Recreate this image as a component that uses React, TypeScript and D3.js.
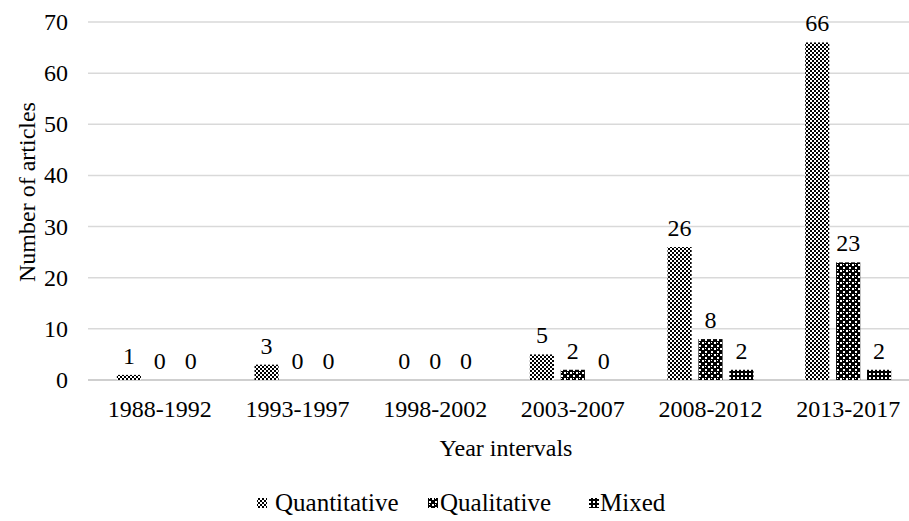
import React from "react";
import * as d3 from "d3";

const categories = ["1988-1992", "1993-1997", "1998-2002", "2003-2007", "2008-2012", "2013-2017"];
const seriesNames = ["Quantitative", "Qualitative", "Mixed"];
const quantitative = [1, 3, 0, 5, 26, 66];
const qualitative = [0, 0, 0, 2, 8, 23];
const mixed = [0, 0, 0, 0, 2, 2];
const yTicks = [0, 10, 20, 30, 40, 50, 60, 70];

const W = 909;
const H = 521;
const FONT = "'Liberation Serif', 'Times New Roman', serif";
const FS = 24;

export default function App() {
  const series = [quantitative, qualitative, mixed];
  const y = d3.scaleLinear().domain([0, 70]).range([380, 22]);
  const x = d3.scaleBand<string>().domain(categories).range([91, 917]).paddingInner(0).paddingOuter(0);
  const groupW = 86;
  const inner = d3.scaleBand<number>().domain([0, 1, 2]).range([0, groupW]).paddingInner(0.22).paddingOuter(0);
  const patIds = ["pQuant", "pQual", "pMixed"];

  const legendItems = [
    { sx: 257, tx: 275 },
    { sx: 428, tx: 440 },
    { sx: 589, tx: 600 },
  ];

  return (
    <svg width={W} height={H} style={{ position: "absolute", left: 0, top: 0, background: "#fff" }}>
      <defs>
        <pattern id="pQuant" width="4" height="4" patternUnits="userSpaceOnUse">
          <rect width="4" height="4" fill="#fff" />
          <rect x="0" y="0" width="2" height="2" fill="#000" />
          <rect x="2" y="2" width="2" height="2" fill="#000" />
        </pattern>
        <pattern id="pQual" width="6" height="6" patternUnits="userSpaceOnUse">
          <rect width="6" height="6" fill="#000" />
          <rect x="0" y="0" width="2" height="2" fill="#fff" />
          <rect x="3" y="3" width="2" height="2" fill="#fff" />
          <rect x="3" y="0" width="1" height="1" fill="#fff" />
        </pattern>
        <pattern id="pMixed" width="4" height="4" patternUnits="userSpaceOnUse">
          <rect width="4" height="4" fill="#000" />
          <rect x="1" y="1" width="2" height="2" fill="#fff" />
        </pattern>
      </defs>
      <rect width={W} height={H} fill="#fff" />
      {yTicks.map((t) => (
        <g key={t}>
          <line x1={88} x2={W} y1={y(t)} y2={y(t)} stroke={t === 0 ? "#bfbfbf" : "#d9d9d9"} strokeWidth={1.5} />
          <text x={68} y={y(t) + 8} textAnchor="end" fontFamily={FONT} fontSize={FS} fill="#000">
            {t}
          </text>
        </g>
      ))}
      {categories.map((c, i) => {
        const gx = (x(c) as number) + (x.bandwidth() - groupW) / 2;
        return (
          <g key={c}>
            {series.map((s, j) => {
              const bx = gx + (inner(j) as number);
              const bw = inner.bandwidth();
              const v = s[i];
              return (
                <g key={j}>
                  {v > 0 && (
                    <rect x={bx} y={y(v)} width={bw} height={y(0) - y(v)} fill={`url(#${patIds[j]})`} />
                  )}
                  <text x={bx + bw / 2} y={y(v) - 11} textAnchor="middle" fontFamily={FONT} fontSize={FS} fill="#000">
                    {v}
                  </text>
                </g>
              );
            })}
            <text x={(x(c) as number) + x.bandwidth() / 2} y={417} textAnchor="middle" fontFamily={FONT} fontSize={FS} fill="#000">
              {c}
            </text>
          </g>
        );
      })}
      <text x={506} y={456} textAnchor="middle" fontFamily={FONT} fontSize={FS} fill="#000">
        Year intervals
      </text>
      <text
        transform={`translate(35,192) rotate(-90)`}
        textAnchor="middle"
        fontFamily={FONT}
        fontSize={FS}
        fill="#000"
      >
        Number of articles
      </text>
      {seriesNames.map((n, j) => (
        <g key={n}>
          <rect x={legendItems[j].sx} y={498} width={10} height={10} fill={`url(#${patIds[j]})`} />
          <text x={legendItems[j].tx} y={511} fontFamily={FONT} fontSize={25} fill="#000">
            {n}
          </text>
        </g>
      ))}
    </svg>
  );
}
